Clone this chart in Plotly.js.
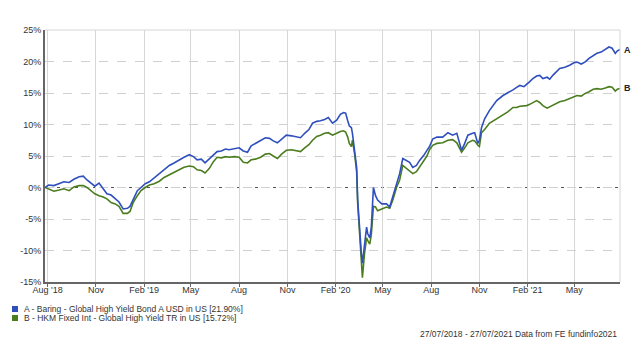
<!DOCTYPE html>
<html>
<head>
<meta charset="utf-8">
<script src="https://cdn.plot.ly/plotly-3.0.1.min.js"></script>
<style>html,body{margin:0;padding:0;background:#fff;}#chart{width:640px;height:360px;}</style>
</head>
<body>
<div id="chart"></div>
<script>
const dates = [
"2018-07-27","2018-08-03","2018-08-13","2018-08-23","2018-09-01","2018-09-11","2018-09-20","2018-09-30","2018-10-08","2018-10-15",
"2018-10-23","2018-10-30","2018-11-07","2018-11-15","2018-11-22","2018-11-30","2018-12-08","2018-12-15","2018-12-23","2018-12-31",
"2019-01-05","2019-01-11","2019-01-19","2019-01-26","2019-02-03","2019-02-11","2019-02-20","2019-03-02","2019-03-11","2019-03-21",
"2019-03-30","2019-04-09","2019-04-18","2019-04-28","2019-05-06","2019-05-13","2019-05-21","2019-05-28","2019-06-05","2019-06-13",
"2019-06-20","2019-06-28","2019-07-06","2019-07-13","2019-07-23","2019-08-01","2019-08-09","2019-08-17","2019-08-24","2019-09-01",
"2019-09-11","2019-09-20","2019-09-28","2019-10-05","2019-10-13","2019-10-21","2019-10-30","2019-11-09","2019-11-18","2019-11-26",
"2019-12-04","2019-12-12","2019-12-19","2019-12-27","2020-01-03","2020-01-11","2020-01-18","2020-01-26","2020-02-03","2020-02-10",
"2020-02-16","2020-02-20","2020-02-24","2020-02-27","2020-03-02","2020-03-04","2020-03-08","2020-03-12","2020-03-14","2020-03-18",
"2020-03-21","2020-03-23","2020-03-27","2020-03-31","2020-04-02","2020-04-06","2020-04-09","2020-04-11","2020-04-13","2020-04-17",
"2020-04-21","2020-04-29","2020-05-08","2020-05-14","2020-05-20","2020-05-27","2020-06-02","2020-06-08","2020-06-15","2020-06-21",
"2020-06-27","2020-07-04","2020-07-10","2020-07-18","2020-07-24","2020-07-29","2020-08-04","2020-08-12","2020-08-17","2020-08-23",
"2020-09-02","2020-09-11","2020-09-19","2020-09-25","2020-09-28","2020-10-04","2020-10-10","2020-10-19","2020-10-23","2020-10-29",
"2020-11-01","2020-11-05","2020-11-11","2020-11-20","2020-12-04","2020-12-16","2020-12-25","2021-01-04","2021-01-11","2021-01-17",
"2021-01-25","2021-01-30","2021-02-05","2021-02-11","2021-02-18","2021-02-24","2021-03-02","2021-03-10","2021-03-15","2021-03-21",
"2021-03-29","2021-04-03","2021-04-13","2021-04-22","2021-04-30","2021-05-06","2021-05-14","2021-05-21","2021-05-29","2021-06-06",
"2021-06-13","2021-06-21","2021-06-29","2021-07-06","2021-07-12","2021-07-18","2021-07-22","2021-07-27"
];
const seriesA = [
0,0.4,0.3,0.6,0.9,0.8,1.3,1.7,1.8,1.2,
0.6,0.2,0.7,-0.3,-1.0,-1.2,-1.8,-2.3,-3.4,-3.3,
-3.0,-1.8,-0.5,0.0,0.6,0.9,1.5,2.2,2.8,3.5,
3.9,4.4,4.8,5.2,4.9,4.4,4.5,3.9,4.5,5.2,
5.7,5.8,6.1,6.0,6.2,6.3,5.8,5.6,6.6,7.0,
7.5,7.9,7.8,7.4,7.1,7.7,8.3,8.2,8.1,7.9,
8.6,9.2,10.2,10.5,10.6,10.8,11.1,10.2,10.7,11.6,
11.9,11.8,10.6,9.8,9.5,8.6,5.9,3.2,-2.0,-7.3,
-10.5,-12.0,-8.9,-6.3,-7.3,-8.0,-6.3,-2.0,0.0,-1.3,
-2.0,-2.6,-2.6,-3.1,-1.5,0.6,2.2,4.6,4.3,4.0,
3.2,3.5,4.3,5.1,5.9,6.5,7.7,8.0,8.0,8.0,
8.7,8.3,8.6,7.0,5.9,7.0,8.3,8.6,8.7,7.0,
7.5,9.5,10.9,12.2,13.8,14.6,15.0,15.5,15.9,16.2,
16.0,16.3,16.8,17.3,17.7,17.8,17.3,17.5,17.2,17.8,
18.5,18.9,19.1,19.4,19.8,19.9,19.6,19.9,20.5,21.0,
21.3,21.5,21.9,22.3,22.1,21.3,21.7,21.90
];
const seriesB = [
0,-0.3,-0.6,-0.4,-0.2,-0.5,0.1,0.3,0.3,0.0,
-0.6,-1.0,-1.3,-1.5,-1.8,-2.4,-2.6,-3.0,-4.1,-4.1,
-3.8,-2.4,-1.3,-0.5,0.0,0.4,0.6,1.0,1.6,2.0,
2.4,2.8,3.2,3.4,3.3,2.8,2.7,2.3,3.0,4.1,
4.8,4.7,4.9,4.8,4.9,4.8,4.0,3.9,4.4,4.5,
4.8,5.3,5.4,5.0,4.6,5.3,5.9,6.0,5.9,5.7,
6.3,6.8,7.5,8.1,8.3,8.6,8.7,8.3,8.6,8.9,
9.0,8.8,8.0,7.0,6.5,7.5,5.4,2.5,-2.5,-8.5,
-12.0,-14.3,-10.5,-8.0,-8.4,-9.0,-7.5,-4.5,-3.0,-3.1,
-3.7,-3.4,-3.1,-3.3,-2.0,0.0,1.2,3.5,3.0,2.6,
2.2,2.5,3.2,4.2,5.0,6.0,6.7,7.0,7.0,7.1,
7.5,7.6,7.1,5.9,5.6,6.3,7.1,7.5,7.4,6.7,
6.5,8.7,9.2,10.2,10.9,11.6,12.0,12.7,12.7,12.9,
13.0,13.0,13.2,13.5,13.8,13.5,13.0,12.6,12.8,13.0,
13.3,13.6,13.8,14.1,14.3,14.6,14.5,14.9,15.2,15.6,
15.7,15.6,15.8,16.0,15.9,15.3,15.6,15.72
];
const nameA = "A - Baring - Global High Yield Bond A USD in US [21.90%]";
const nameB = "B - HKM Fixed Int - Global High Yield TR in US [15.72%]";
const tickDates = ["2018-08-01","2018-11-01","2019-02-01","2019-05-01","2019-08-01","2019-11-01","2020-02-01","2020-05-01","2020-08-01","2020-11-01","2021-02-01","2021-05-01"];
const tickLabels = ["Aug '18","Nov","Feb '19","May","Aug","Nov","Feb '20","May","Aug","Nov","Feb '21","May"];
const yTicks = [-15,-10,-5,0,5,10,15,20,25];
const footer = "27/07/2018 - 27/07/2021 Data from FE fundinfo2021";

const colA = "#2f4fbd", colB = "#4b7d1f";
const FONT = "Liberation Sans, Arial, sans-serif";
const L = 45, R = 620, T = 30, B = 282;
const px = v => (v - L) / (R - L);
const py = v => (B - v) / (B - T);

const traces = [
  {x: dates, y: seriesB, type: "scatter", mode: "lines", name: nameB, line: {color: colB, width: 1.6}, showlegend: false},
  {x: dates, y: seriesA, type: "scatter", mode: "lines", name: nameA, line: {color: colA, width: 1.6}, showlegend: false}
];

const layout = {
  width: 640, height: 360,
  margin: {l: L, r: 640 - R, t: T, b: 360 - B},
  paper_bgcolor: "#fff", plot_bgcolor: "#fff",
  font: {family: FONT, size: 9, color: "#333"},
  xaxis: {
    type: "date", range: [dates[0], dates[dates.length - 1]],
    tickvals: tickDates, ticktext: tickLabels,
    showgrid: true, gridcolor: "#d6d6d6", gridwidth: 1,
    showline: true, linecolor: "#666", linewidth: 2,
    ticks: "outside", ticklen: 3, tickcolor: "#666",
    ticklabelstandoff: -5,
    zeroline: false, tickfont: {size: 9, color: "#333"}
  },
  yaxis: {
    range: [-15, 25], tickvals: yTicks, ticktext: yTicks.map(v => v + "%"),
    showgrid: true, gridcolor: "#d0d0d0", griddash: "dash", gridwidth: 1,
    showline: true, linecolor: "#666", linewidth: 2,
    ticks: "", zeroline: false, tickfont: {size: 9, color: "#333"}
  },
  shapes: [
    {type: "line", xref: "paper", yref: "y", x0: 0, x1: 1, y0: 0, y1: 0, line: {color: "#555", width: 1, dash: "dot"}, layer: "below"},
    {type: "line", xref: "paper", yref: "paper", x0: 0, x1: 1, y0: 1, y1: 1, line: {color: "#d6d6d6", width: 1}},
    {type: "line", xref: "paper", yref: "paper", x0: 1, x1: 1, y0: 0, y1: 1, line: {color: "#d6d6d6", width: 1}},
    {type: "rect", xref: "paper", yref: "paper", x0: px(12), x1: px(18), y0: py(312), y1: py(306), fillcolor: colA, line: {width: 0}},
    {type: "rect", xref: "paper", yref: "paper", x0: px(12), x1: px(18), y0: py(321), y1: py(315), fillcolor: colB, line: {width: 0}}
  ],
  annotations: [
    {x: dates[dates.length - 1], y: seriesA[seriesA.length - 1], xref: "x", yref: "y", text: "<b>A</b>", showarrow: false, xanchor: "left", xshift: 2, font: {size: 9, color: "#222"}},
    {x: dates[dates.length - 1], y: seriesB[seriesB.length - 1], xref: "x", yref: "y", text: "<b>B</b>", showarrow: false, xanchor: "left", xshift: 2, font: {size: 9, color: "#222"}},
    {x: px(22), y: py(309), xref: "paper", yref: "paper", text: nameA, showarrow: false, xanchor: "left", yanchor: "middle", font: {size: 8.5, color: "#333"}},
    {x: px(22), y: py(318), xref: "paper", yref: "paper", text: nameB, showarrow: false, xanchor: "left", yanchor: "middle", font: {size: 8.5, color: "#333"}},
    {x: px(619), y: py(334), xref: "paper", yref: "paper", text: footer, showarrow: false, xanchor: "right", yanchor: "middle", font: {size: 8.5, color: "#333"}}
  ]
};

Plotly.newPlot("chart", traces, layout, {staticPlot: true, displayModeBar: false});
</script>
</body>
</html>
